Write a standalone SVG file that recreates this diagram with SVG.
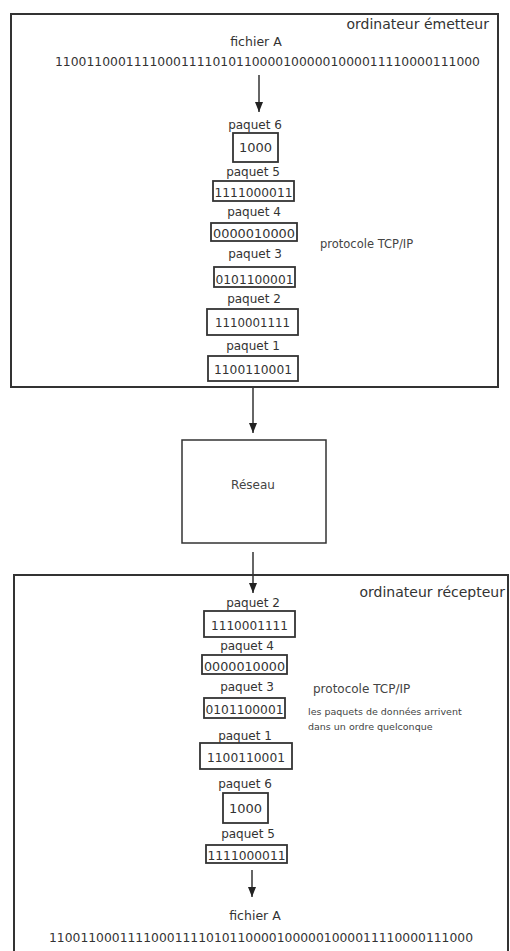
<svg xmlns="http://www.w3.org/2000/svg" width="510" height="951" viewBox="0 0 510 951">
<style>
.frame{fill:#fff;stroke:#333;stroke-width:2}
.pk{fill:#fff;stroke:#333;stroke-width:1.8}
.t{font-family:"DejaVu Sans",sans-serif;fill:#333}
.lbl{font-size:12px;text-anchor:middle}
.bits{font-size:12.5px;text-anchor:middle}
.os{font-family:"DejaVu Sans",sans-serif;fill:#444}
.conn{stroke:#333;stroke-width:1.5;fill:none}
</style>
<defs>
<marker id="ah" markerWidth="10" markerHeight="8" refX="10" refY="4" orient="auto" markerUnits="userSpaceOnUse" viewBox="0 0 10 8">
<path d="M0,0 L10,4 L0,8 Z" fill="#222"/>
</marker>
</defs>
<rect width="510" height="951" fill="#fff"/>

<g id="emetteur">
<rect class="frame" x="11" y="14" width="487" height="373"/>
<text class="t" x="489" y="29" font-size="14" text-anchor="end">ordinateur émetteur</text>
<text class="t" x="256" y="46" font-size="12.5" text-anchor="middle">fichier A</text>
<text class="t bits" x="267.5" y="66" textLength="425" lengthAdjust="spacingAndGlyphs">110011000111100011110101100001000001000011110000111000</text>
<text class="os" x="320" y="248" font-size="11.5">protocole TCP/IP</text>
</g>

<g id="e-paquet6">
<text class="t lbl" x="255" y="129">paquet 6</text>
<rect class="pk" x="233" y="133" width="45" height="29"/>
<text class="t" x="255.5" y="152" font-size="13" text-anchor="middle">1000</text>
</g>
<g id="e-paquet5">
<text class="t lbl" x="253" y="176">paquet 5</text>
<rect class="pk" x="213" y="181" width="81" height="20"/>
<text class="t" x="253.5" y="197" font-size="13" text-anchor="middle" textLength="78" lengthAdjust="spacingAndGlyphs">1111000011</text>
</g>
<g id="e-paquet4">
<text class="t lbl" x="254" y="216">paquet 4</text>
<rect class="pk" x="211" y="223" width="86" height="18"/>
<text class="t" x="254" y="238" font-size="13" text-anchor="middle" textLength="82" lengthAdjust="spacingAndGlyphs">0000010000</text>
</g>
<g id="e-paquet3">
<text class="t lbl" x="255" y="258">paquet 3</text>
<rect class="pk" x="214" y="267" width="81" height="20"/>
<text class="t" x="254.5" y="284" font-size="13" text-anchor="middle" textLength="78" lengthAdjust="spacingAndGlyphs">0101100001</text>
</g>
<g id="e-paquet2">
<text class="t lbl" x="254" y="303">paquet 2</text>
<rect class="pk" x="207" y="309" width="91" height="26"/>
<text class="t" x="252.5" y="327" font-size="13" text-anchor="middle" textLength="75" lengthAdjust="spacingAndGlyphs">1110001111</text>
</g>
<g id="e-paquet1">
<text class="t lbl" x="253" y="350">paquet 1</text>
<rect class="pk" x="208" y="356" width="90" height="25"/>
<text class="t" x="253" y="374" font-size="13" text-anchor="middle" textLength="78" lengthAdjust="spacingAndGlyphs">1100110001</text>
</g>

<g id="reseau">
<rect x="182" y="440" width="144" height="103" fill="#fff" stroke="#333" stroke-width="1.5"/>
<text class="os" x="253" y="489" font-size="12" text-anchor="middle">Réseau</text>
</g>

<g id="recepteur">
<path class="frame" d="M14,955 L14,575 L508,575 L508,955"/>
<text class="t" x="505" y="597" font-size="14" text-anchor="end">ordinateur récepteur</text>
<text class="os" x="313" y="693" font-size="12">protocole TCP/IP</text>
<text class="os" x="308" y="715" font-size="9.5">les paquets de données arrivent</text>
<text class="os" x="308" y="730" font-size="9.5">dans un ordre quelconque</text>
<text class="t" x="255" y="920" font-size="12.5" text-anchor="middle">fichier A</text>
<text class="t bits" x="261" y="942" textLength="424" lengthAdjust="spacingAndGlyphs">110011000111100011110101100001000001000011110000111000</text>
</g>

<g id="r-paquet2">
<text class="t lbl" x="253" y="607">paquet 2</text>
<rect class="pk" x="204" y="611" width="91" height="26"/>
<text class="t" x="249.5" y="630" font-size="13" text-anchor="middle" textLength="77" lengthAdjust="spacingAndGlyphs">1110001111</text>
</g>
<g id="r-paquet4">
<text class="t lbl" x="247" y="650">paquet 4</text>
<rect class="pk" x="202" y="655" width="85" height="19"/>
<text class="t" x="244.5" y="671" font-size="13" text-anchor="middle" textLength="81" lengthAdjust="spacingAndGlyphs">0000010000</text>
</g>
<g id="r-paquet3">
<text class="t lbl" x="247" y="691">paquet 3</text>
<rect class="pk" x="204" y="698" width="81" height="20"/>
<text class="t" x="244.5" y="714" font-size="13" text-anchor="middle" textLength="78" lengthAdjust="spacingAndGlyphs">0101100001</text>
</g>
<g id="r-paquet1">
<text class="t lbl" x="245" y="740">paquet 1</text>
<rect class="pk" x="200" y="743" width="92" height="26"/>
<text class="t" x="246" y="762" font-size="13" text-anchor="middle" textLength="78" lengthAdjust="spacingAndGlyphs">1100110001</text>
</g>
<g id="r-paquet6">
<text class="t lbl" x="245" y="788">paquet 6</text>
<rect class="pk" x="223" y="793" width="45" height="30"/>
<text class="t" x="245.5" y="813" font-size="13" text-anchor="middle">1000</text>
</g>
<g id="r-paquet5">
<text class="t lbl" x="248" y="838">paquet 5</text>
<rect class="pk" x="206" y="845" width="81" height="18"/>
<text class="t" x="246.5" y="860" font-size="13" text-anchor="middle" textLength="78" lengthAdjust="spacingAndGlyphs">1111000011</text>
</g>

<g id="connectors">
<line class="conn" x1="259" y1="75" x2="259" y2="112" marker-end="url(#ah)"/>
<line class="conn" x1="253" y1="388" x2="253" y2="433" marker-end="url(#ah)"/>
<line class="conn" x1="253" y1="552" x2="253" y2="593" marker-end="url(#ah)"/>
<line class="conn" x1="252" y1="870" x2="252" y2="897" marker-end="url(#ah)"/>
</g>
</svg>
